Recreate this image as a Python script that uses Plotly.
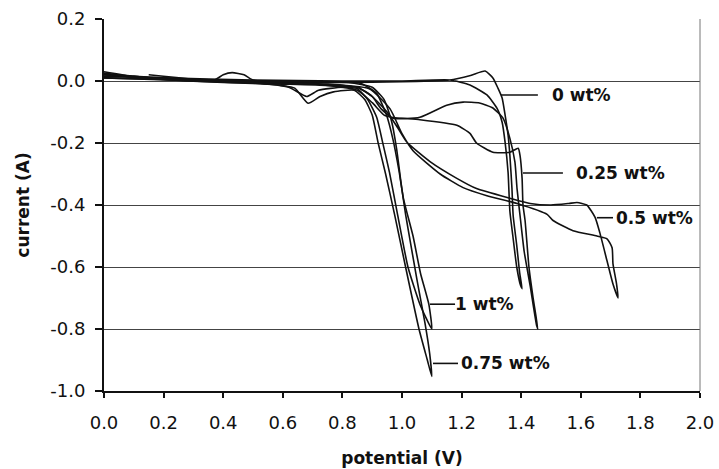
import plotly.graph_objects as go

# ---- data (potential V, current A), each series is a closed sweep loop ----
v_0 = [0.0, 0.1, 0.2, 0.4, 0.6, 0.8, 1.0, 1.1, 1.16, 1.23, 1.279, 1.305, 1.322, 1.336, 1.346, 1.356,
       1.362, 1.369, 1.373, 1.385, 1.395, 1.403,
       1.398, 1.385, 1.372, 1.362, 1.356, 1.346, 1.336, 1.319, 1.285, 1.228, 1.161, 1.0, 0.8, 0.5, 0.2, 0.0]
i_0 = [0.025, 0.015, 0.008, 0.0, -0.005, -0.005, -0.002, 0.0, 0.003, 0.018, 0.032, 0.01, -0.023, -0.055, -0.11, -0.175,
       -0.24, -0.347, -0.434, -0.53, -0.62, -0.67,
       -0.66, -0.60, -0.50, -0.42, -0.295, -0.198, -0.133, -0.088, -0.045, -0.013, 0.003, 0.0, 0.0, 0.003, 0.01, 0.015]

v_025 = [0.0, 0.2, 0.4, 0.6, 0.75, 0.85, 0.9, 0.94, 0.97, 1.06, 1.184, 1.228, 1.25, 1.305, 1.362, 1.39,
         1.396, 1.403, 1.406, 1.413, 1.426, 1.44, 1.456,
         1.452, 1.43, 1.41, 1.398, 1.386, 1.379, 1.362, 1.339, 1.305, 1.26, 1.205, 1.15, 1.06, 0.97, 0.93,
         0.9, 0.85, 0.7, 0.4, 0.15]
i_025 = [0.02, 0.005, -0.005, -0.01, -0.015, -0.03, -0.07, -0.11, -0.118, -0.125, -0.143, -0.169, -0.2, -0.23, -0.23, -0.217,
         -0.24, -0.314, -0.40, -0.45, -0.6, -0.70, -0.80,
         -0.79, -0.66, -0.55, -0.45, -0.347, -0.262, -0.185, -0.12, -0.087, -0.071, -0.068, -0.078, -0.117, -0.12, -0.09,
         -0.05, -0.02, -0.01, -0.003, 0.02]

v_05 = [0.0, 0.2, 0.37, 0.40, 0.43, 0.47, 0.5, 0.6, 0.75, 0.85, 0.9, 0.95, 0.985, 1.016, 1.094, 1.184, 1.25, 1.362,
        1.43, 1.5, 1.56, 1.587, 1.62, 1.648, 1.664, 1.688, 1.708, 1.725,
        1.72, 1.708, 1.705, 1.688, 1.654, 1.574, 1.507, 1.487, 1.386, 1.285, 1.205, 1.128, 1.037, 1.0,
        0.96, 0.89, 0.7, 0.4, 0.0]
i_05 = [0.02, 0.01, 0.003, 0.02, 0.027, 0.02, 0.003, -0.005, -0.01, -0.02, -0.05, -0.1, -0.15, -0.197, -0.26, -0.314, -0.347, -0.378,
        -0.395, -0.40, -0.395, -0.392, -0.40, -0.44, -0.49, -0.58, -0.655, -0.70,
        -0.655, -0.59, -0.538, -0.509, -0.50, -0.483, -0.45, -0.43, -0.395, -0.37, -0.344, -0.3, -0.225, -0.17,
        -0.09, -0.025, -0.008, -0.002, 0.01]

v_075 = [0.0, 0.1, 0.3, 0.5, 0.6, 0.64, 0.685, 0.725, 0.77, 0.84, 0.875, 0.9, 0.92, 0.945, 0.975, 1.012, 1.057,
         1.085, 1.10,
         1.093, 1.077, 1.05, 1.03, 1.012, 0.997, 0.982, 0.965, 0.94, 0.9, 0.82, 0.5, 0.2, 0.0]
i_075 = [0.03, 0.015, 0.0, -0.007, -0.015, -0.023, -0.072, -0.05, -0.035, -0.03, -0.06, -0.11, -0.2, -0.3, -0.43, -0.6, -0.8,
         -0.9, -0.953,
         -0.88, -0.78, -0.64, -0.53, -0.43, -0.33, -0.22, -0.13, -0.06, -0.02, -0.005, 0.0, 0.008, 0.02]

v_1 = [0.0, 0.1, 0.3, 0.5, 0.62, 0.68, 0.72, 0.8, 0.85, 0.885, 0.915, 0.935, 0.958, 0.985, 1.02, 1.06, 1.10,
       1.09, 1.062, 1.037, 1.005, 0.99, 0.97, 0.948, 0.915, 0.86, 0.76, 0.5, 0.2, 0.0]
i_1 = [0.025, 0.012, 0.003, -0.005, -0.02, -0.05, -0.03, -0.02, -0.025, -0.06, -0.117, -0.198, -0.295, -0.43, -0.6, -0.72, -0.80,
       -0.72, -0.62, -0.5, -0.38, -0.29, -0.19, -0.11, -0.04, -0.007, -0.003, 0.0, 0.005, 0.01]

series_names = ["0 wt%", "0.25 wt%", "0.5 wt%", "0.75 wt%", "1 wt%"]
series_v = [v_0, v_025, v_05, v_075, v_1]
series_i = [i_0, i_025, i_05, i_075, i_1]

# label text, leader start/end potential, current level, text start potential
label_text = ["0 wt%", "0.25 wt%", "0.5 wt%", "1 wt%", "0.75 wt%"]
leader_v0 = [1.332, 1.406, 1.654, 1.094, 1.104]
leader_v1 = [1.456, 1.540, 1.708, 1.178, 1.188]
leader_i = [-0.045, -0.297, -0.441, -0.720, -0.911]
text_v = [1.497, 1.577, 1.712, 1.172, 1.190]

x_ticks = [0.0, 0.2, 0.4, 0.6, 0.8, 1.0, 1.2, 1.4, 1.6, 1.8, 2.0]
y_ticks = [0.2, 0.0, -0.2, -0.4, -0.6, -0.8, -1.0]

fig = go.Figure()
for name, vv, ii in zip(series_names, series_v, series_i):
    fig.add_trace(go.Scatter(x=vv, y=ii, mode="lines", name=name,
                             line=dict(color="#111111", width=1.6, shape="spline", smoothing=0.5),
                             showlegend=False))

for t, a, b, yv, tv in zip(label_text, leader_v0, leader_v1, leader_i, text_v):
    fig.add_shape(type="line", x0=a, x1=b, y0=yv, y1=yv, xref="x", yref="y",
                  line=dict(color="#111111", width=1.6))
    fig.add_annotation(x=tv, y=yv, xref="x", yref="y", text=t, showarrow=False,
                       xanchor="left", yanchor="middle",
                       font=dict(family="DejaVu Sans", size=17, color="#111111", weight="bold"))

# right border of plot box
fig.add_shape(type="line", x0=1, x1=1, y0=0, y1=1, xref="paper", yref="paper",
              line=dict(color="#777777", width=1))

fig.update_layout(
    width=719, height=469,
    margin=dict(l=104, r=19, t=19, b=78),
    paper_bgcolor="white", plot_bgcolor="white",
    font=dict(family="DejaVu Sans", size=18, color="#111111"),
    xaxis=dict(range=[0, 2], tickvals=x_ticks, ticktext=[f"{v:.1f}" for v in x_ticks],
               automargin=False,
               showgrid=False, zeroline=False, showline=True, linecolor="#111111", linewidth=1.5,
               ticks="outside", ticklen=5, tickwidth=1.5, tickcolor="#111111",
               ticklabelstandoff=10,
               title=dict(text="potential (V)", font=dict(family="DejaVu Sans", size=17, weight="bold"),
                          standoff=20)),
    yaxis=dict(range=[-1.0, 0.2], tickvals=y_ticks, ticktext=[f"{v:.1f}" for v in y_ticks],
               automargin=False,
               showgrid=True, gridcolor="#444444", gridwidth=1, zeroline=False,
               showline=True, linecolor="#111111", linewidth=2,
               ticks="outside", ticklen=7, tickwidth=1.5, tickcolor="#111111",
               ticklabelstandoff=6,
               title=dict(text="current (A)", font=dict(family="DejaVu Sans", size=17, weight="bold"),
                          standoff=16)),
)

fig.write_html("out.html")
